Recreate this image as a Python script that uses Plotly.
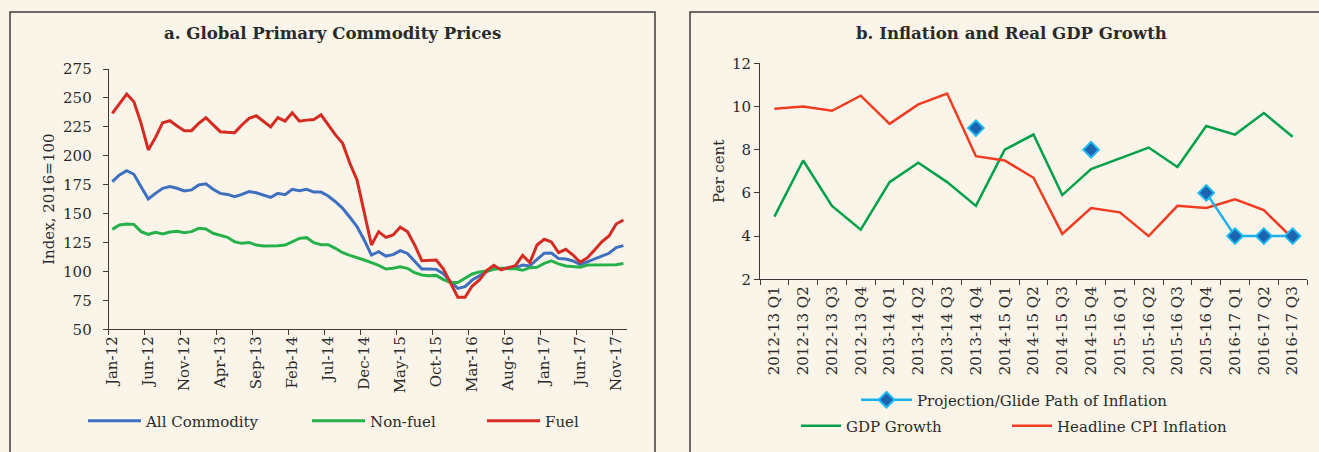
import plotly.graph_objects as go
import pandas as pd

W, H = 1319, 452

# ---------------- Panel a data ----------------
months = [d.strftime("%b-%y") for d in pd.date_range("2012-01-01", "2017-12-01", freq="MS")]

all_commodity = [
    177.6, 183.4, 187.1, 184.0, 173.3, 162.6, 167.5, 171.9, 173.3, 171.9, 169.6, 170.5,
    174.8, 175.7, 171.0, 167.5, 166.6, 164.6, 166.6, 169.0, 168.0, 166.0, 164.0, 167.5,
    166.3, 171.0, 169.8, 171.0, 168.6, 168.6, 165.2, 160.3, 154.6, 146.8, 138.7, 127.2,
    114.2, 117.1, 113.3, 114.5, 118.0, 115.6, 108.4, 102.1, 102.1, 101.8, 98.0, 91.2,
    85.4, 86.9, 92.6, 96.1, 99.8, 102.4, 102.7, 103.0, 103.3, 105.6, 104.7, 110.5,
    115.7, 116.0, 111.1, 110.8, 109.1, 105.9, 108.5, 111.1, 113.7, 115.7, 120.6, 122.3,
]
non_fuel = [
    136.4, 140.1, 141.0, 140.7, 134.4, 132.1, 133.8, 132.4, 134.1, 134.7, 133.5, 134.4,
    137.3, 136.7, 133.0, 131.2, 129.5, 125.7, 124.3, 125.1, 122.8, 122.0, 122.0, 122.2,
    122.8, 125.7, 128.6, 129.2, 124.9, 123.1, 123.1, 120.0, 116.2, 113.9, 112.2, 109.9,
    107.6, 105.3, 102.1, 102.7, 104.1, 102.7, 98.9, 96.9, 96.3, 96.6, 93.0, 90.5,
    90.5, 94.1, 97.8, 99.6, 100.4, 101.9, 102.7, 102.4, 102.4, 101.0, 103.3, 103.6,
    107.0, 109.1, 106.5, 104.7, 104.4, 103.6, 105.6, 105.6, 105.6, 105.3, 105.9, 106.8,
]
fuel = [
    236.7, 244.7, 253.4, 246.7, 228.0, 205.0, 215.9, 228.6, 230.3, 225.7, 221.7, 221.7,
    228.0, 232.9, 226.6, 220.8, 220.3, 220.0, 226.6, 232.4, 234.6, 230.0, 225.0, 233.0,
    230.0, 237.2, 229.9, 230.8, 231.4, 235.4, 226.6, 218.0, 210.7, 193.5, 179.0, 150.2,
    122.9, 134.4, 129.5, 131.5, 138.2, 134.4, 122.9, 109.3, 109.3, 109.9, 102.0, 90.0,
    77.7, 77.7, 87.4, 92.6, 100.7, 105.3, 101.3, 103.3, 105.0, 113.9, 107.6, 122.9,
    127.8, 125.5, 116.2, 119.1, 114.2, 107.9, 111.9, 118.5, 125.7, 130.6, 141.0, 144.5,
]

# ---------------- Panel b data ----------------
quarters = [
    "2012-13 Q1", "2012-13 Q2", "2012-13 Q3", "2012-13 Q4",
    "2013-14 Q1", "2013-14 Q2", "2013-14 Q3", "2013-14 Q4",
    "2014-15 Q1", "2014-15 Q2", "2014-15 Q3", "2014-15 Q4",
    "2015-16 Q1", "2015-16 Q2", "2015-16 Q3", "2015-16 Q4",
    "2016-17 Q1", "2016-17 Q2", "2016-17 Q3",
]
gdp_growth = [4.9, 7.5, 5.4, 4.3, 6.5, 7.4, 6.5, 5.4, 8.0, 8.7, 5.9, 7.1, 7.6, 8.1, 7.2, 9.1, 8.7, 9.7, 8.6]
cpi_inflation = [9.9, 10.0, 9.8, 10.5, 9.2, 10.1, 10.6, 7.7, 7.5, 6.7, 4.1, 5.3, 5.1, 4.0, 5.4, 5.3, 5.7, 5.2, 3.9]
projection = [None, None, None, None, None, None, None, 9, None, None, None, 8,
              None, None, None, 6, 4, 4, 4]

FONT = "DejaVu Serif"
BG = "#fbf5e9"
TXT = "#2a2a2a"
AX = "#3a3a3a"

fig = go.Figure()

# Panel a traces
fig.add_trace(go.Scatter(x=months, y=all_commodity, name="All Commodity", mode="lines",
                         line=dict(color="#3f70c0", width=3), xaxis="x", yaxis="y",
                         legend="legend"))
fig.add_trace(go.Scatter(x=months, y=non_fuel, name="Non-fuel", mode="lines",
                         line=dict(color="#27b14b", width=3), xaxis="x", yaxis="y",
                         legend="legend2"))
fig.add_trace(go.Scatter(x=months, y=fuel, name="Fuel", mode="lines",
                         line=dict(color="#d42b22", width=3), xaxis="x", yaxis="y",
                         legend="legend3"))

# Panel b traces
fig.add_trace(go.Scatter(x=quarters, y=gdp_growth, name="GDP Growth", mode="lines",
                         line=dict(color="#00a04a", width=2.5), xaxis="x2", yaxis="y2",
                         legend="legend5"))
fig.add_trace(go.Scatter(x=quarters, y=cpi_inflation, name="Headline CPI Inflation", mode="lines",
                         line=dict(color="#f23c22", width=2.5), xaxis="x2", yaxis="y2",
                         legend="legend6"))
fig.add_trace(go.Scatter(x=quarters, y=projection, name="Projection/Glide Path of Inflation",
                         mode="lines+markers", connectgaps=False,
                         line=dict(color="#1cb0ea", width=2.5),
                         marker=dict(symbol="diamond", size=12, color="#1e63b0",
                                     line=dict(color="#1cb8f0", width=2)),
                         xaxis="x2", yaxis="y2", legend="legend4"))

tickfont = dict(family=FONT, size=15, color=TXT)

def px_x(p):
    return p / W

def px_y(p):
    return 1 - p / H

axis_common = dict(showline=True, linecolor=AX, linewidth=1, ticks="outside", ticklen=5,
                   tickcolor=AX, tickwidth=1, showgrid=False, zeroline=False,
                   tickfont=tickfont, fixedrange=True, automargin=False)

legend_common = dict(bgcolor="rgba(0,0,0,0)", font=dict(family=FONT, size=15, color=TXT),
                     orientation="h", xanchor="left", yanchor="middle",
                     borderwidth=0)

fig.update_layout(
    width=W, height=H,
    margin=dict(l=0, r=0, t=0, b=0, pad=0, autoexpand=False),
    paper_bgcolor=BG, plot_bgcolor=BG,
    font=dict(family=FONT, color=TXT),
    xaxis=dict(domain=[px_x(108.7), px_x(627)], anchor="y", type="category",
               range=[-0.5, 71.5], dtick=5, tickson="boundaries", tickangle=-90,
               **axis_common),
    yaxis=dict(domain=[px_y(329.3), px_y(69)], anchor="x", range=[50, 275], dtick=25,
               ticklabelstandoff=8,
               title=dict(text="Index, 2016=100", font=dict(family=FONT, size=15, color=TXT),
                          standoff=4),
               **axis_common),
    xaxis2=dict(domain=[px_x(760), px_x(1307)], anchor="y2", type="category",
                range=[-0.5, 18.5], tickson="boundaries", tickangle=-90,
                **axis_common),
    yaxis2=dict(domain=[px_y(279.3), px_y(63.3)], anchor="x2", range=[2, 12], dtick=2,
                title=dict(text="Per cent", font=dict(family=FONT, size=15, color=TXT),
                           standoff=3),
                **axis_common),
    legend=dict(x=px_x(83), y=px_y(421), itemwidth=53, **legend_common),
    legend2=dict(x=px_x(307), y=px_y(421), itemwidth=53, **legend_common),
    legend3=dict(x=px_x(482), y=px_y(421), itemwidth=53, **legend_common),
    legend4=dict(x=px_x(856), y=px_y(400), itemwidth=51, **legend_common),
    legend5=dict(x=px_x(796), y=px_y(426), itemwidth=40, **legend_common),
    legend6=dict(x=px_x(1007), y=px_y(426), itemwidth=40, **legend_common),
    showlegend=True,
    annotations=[
        dict(text="<b>a. Global Primary Commodity Prices</b>", x=px_x(332), y=px_y(33),
             xref="paper", yref="paper", showarrow=False, xanchor="center", yanchor="middle",
             font=dict(family=FONT, size=16.6, color=TXT)),
        dict(text="<b>b. Inflation and Real GDP Growth</b>", x=px_x(1011), y=px_y(33),
             xref="paper", yref="paper", showarrow=False, xanchor="center", yanchor="middle",
             font=dict(family=FONT, size=16.6, color=TXT)),
    ],
    shapes=[
        dict(type="rect", xref="paper", yref="paper", x0=px_x(10), x1=px_x(655),
             y0=-0.1, y1=px_y(12), line=dict(color="#3c3c3c", width=1.5),
             fillcolor="rgba(0,0,0,0)", layer="below"),
        dict(type="rect", xref="paper", yref="paper", x0=px_x(690), x1=1.1,
             y0=-0.1, y1=px_y(12), line=dict(color="#3c3c3c", width=1.5),
             fillcolor="rgba(0,0,0,0)", layer="below"),
    ],
)

fig.write_html(
    "out.html",
    config={"displayModeBar": False},
    post_script="document.body.style.margin='0';document.body.style.overflow='hidden';"
                "document.body.style.background='" + BG + "';",
)
